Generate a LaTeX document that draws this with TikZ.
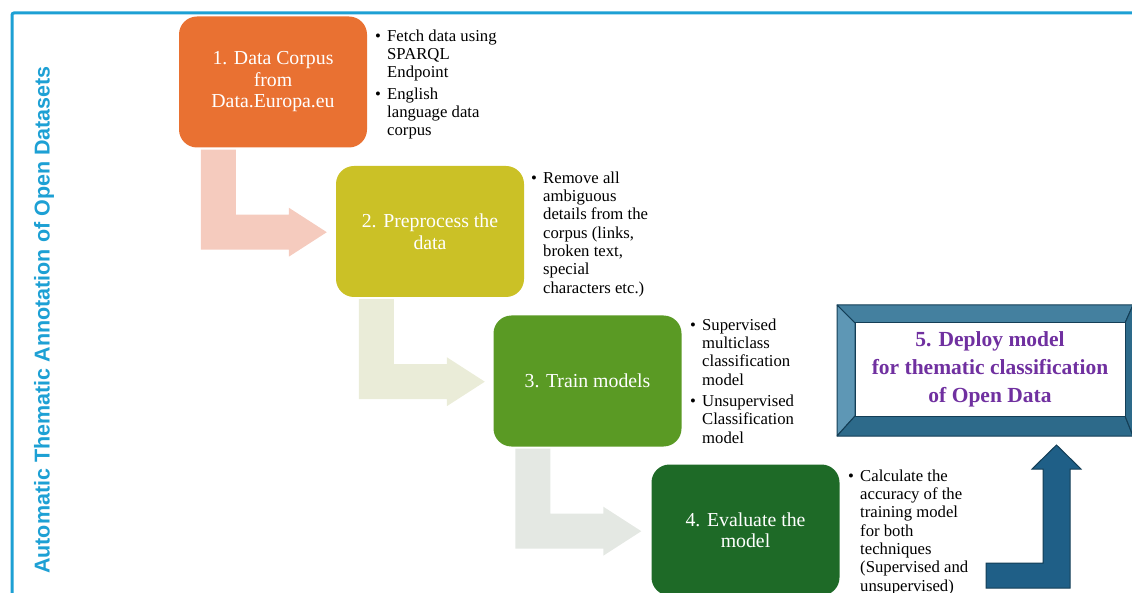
\documentclass[tikz,border=0pt]{standalone}
\usepackage{fontspec}
\setmainfont{Liberation Serif}
\newfontfamily\titlefont{Liberation Sans}
\usetikzlibrary{calc}

\definecolor{frameblue}{HTML}{1DA0D4}
\definecolor{stepone}{HTML}{E97132}
\definecolor{steptwo}{HTML}{CBC126}
\definecolor{stepthree}{HTML}{5A9A24}
\definecolor{stepfour}{HTML}{1E6A27}
\definecolor{flowone}{HTML}{F5CBBE}
\definecolor{flowtwo}{HTML}{EAECD8}
\definecolor{flowthree}{HTML}{E4E8E3}
\definecolor{deployblue}{HTML}{1F5F87}
\definecolor{deployedge}{HTML}{143E56}
\definecolor{bevtop}{HTML}{44809F}
\definecolor{bevleft}{HTML}{5E97B5}
\definecolor{bevlow}{HTML}{2D6A8A}
\definecolor{deploytext}{HTML}{7030A0}

\newcommand{\bu}{\makebox[12pt][l]{•}}
\newcommand{\ind}{\hspace*{12pt}}

\tikzset{
  stepbox/.style={rounded corners=18pt, minimum width=188pt, minimum height=131pt,
    text=white, align=center, inner sep=2pt,
    font=\fontsize{19.8}{21.5}\selectfont},
  notes/.style={anchor=north west, align=left, inner sep=0pt,
    font=\fontsize{16.7}{18.3}\selectfont},
  bentarrow/.pic={
    \path[pic actions] (0,0) -- (35,0) -- (35,65) -- (88,65) -- (88,58)
      -- (126,82.5) -- (88,107) -- (88,100) -- (0,100) -- cycle;
  }
}

\begin{document}
\begin{tikzpicture}[x=1pt, y=-1pt]
\useasboundingbox (0,0) rectangle (1132,593);

% outer frame (open to the right and bottom)
\draw[frameblue, line width=3pt, rounded corners=2pt] (12,600) -- (12,13) -- (1140,13);

% vertical title
\node[rotate=90, text=frameblue, font=\titlefont\bfseries\fontsize{21.5}{24}\selectfont] (title) at (44,320)
  {Automatic Thematic Annotation of Open Datasets};

% process steps
\node[stepbox, fill=stepone] (b1) at (273,82) {1. Data Corpus\\from\\Data.Europa.eu};
\node[stepbox, fill=steptwo] (b2) at (430,231.5) {2. Preprocess the\\data};
\node[stepbox, fill=stepthree] (b3) at (587.5,381) {3. Train models};
\node[stepbox, fill=stepfour] (b4) at (745.5,530) {4. Evaluate the\\model};

% bent arrows between the steps
\pic[fill=flowone] at ([shift={(22,2)}]b1.south west) {bentarrow};
\pic[fill=flowtwo] at ([shift={(23,2)}]b2.south west) {bentarrow};
\pic[fill=flowthree] at ([shift={(22,2)}]b3.south west) {bentarrow};

% notes beside each step
\node[notes] (n1) at (375,29.5) {\bu Fetch data using\\\ind SPARQL\\\ind Endpoint\\[3pt]\bu English\\\ind language data\\\ind corpus};
\node[notes] (n2) at (531,171.5) {\bu Remove all\\\ind ambiguous\\\ind details from the\\\ind corpus (links,\\\ind broken text,\\\ind special\\\ind characters etc.)};
\node[notes] (n3) at (690,318.5) {\bu Supervised\\\ind multiclass\\\ind classification\\\ind model\\[3pt]\bu Unsupervised\\\ind Classification\\\ind model};
\node[notes] (n4) at (848,469.5) {\bu Calculate the\\\ind accuracy of the\\\ind training model\\\ind for both\\\ind techniques\\\ind (Supervised and\\\ind unsupervised)};

% bevelled frame of the final step
\begin{scope}[draw=deployedge, line width=1pt, line join=round]
  \filldraw[fill=bevtop] (837,305) -- (1133,305) -- (1125,323) -- (855,323) -- cycle;
  \filldraw[fill=bevleft] (837,305) -- (855,323) -- (855,416) -- (837,436) -- cycle;
  \filldraw[fill=bevlow] (837,436) -- (855,416) -- (1125,416) -- (1133,436) -- cycle;
  \filldraw[fill=bevlow] (1133,305) -- (1125,323) -- (1125,416) -- (1133,436) -- cycle;
\end{scope}
\node[fill=white, draw=deployedge, line width=1pt, minimum width=270pt, minimum height=93pt,
  inner sep=0pt, align=center, text=deploytext,
  font=\bfseries\fontsize{21.5}{28}\selectfont] (b5) at (990,369.5)
  {\rule{0pt}{6pt}5. Deploy model\\for thematic classification\\of Open Data};

% up arrow into the final step
\coordinate (upstart) at (986,575.5);
\filldraw[fill=deployblue, draw=deployedge, line width=1pt, line join=miter]
  ($(upstart)+(0,-12.5)$) -- (1043,563) -- (1043,469) -- (1032,469) -- (1056.5,445)
  -- (1081,469) -- (1070,469) -- (1070,588) -- ($(upstart)+(0,12.5)$) -- cycle;
\end{tikzpicture}
\end{document}
